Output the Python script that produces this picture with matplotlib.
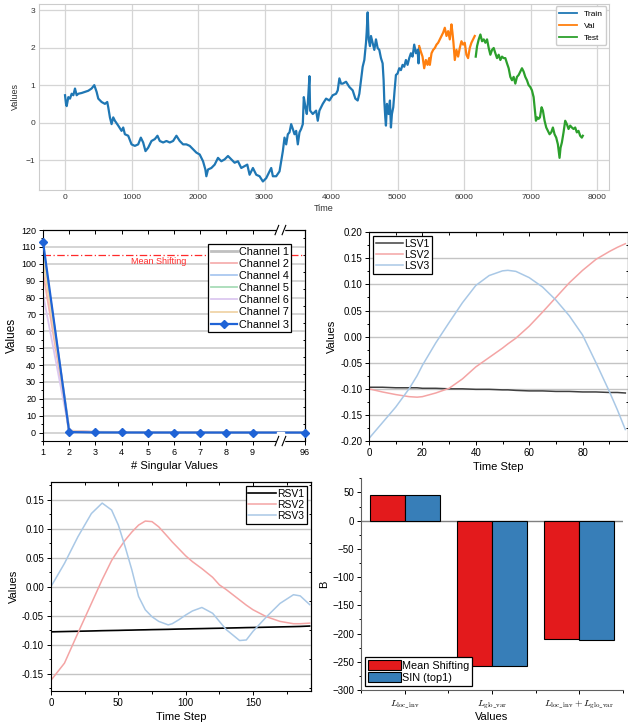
import matplotlib
matplotlib.use('Agg')
import matplotlib.pyplot as plt
from matplotlib.patches import Rectangle
from matplotlib.ticker import MultipleLocator, FormatStrFormatter

plt.rcParams['font.family'] = ['Liberation Sans', 'DejaVu Sans']
plt.rcParams['mathtext.fontset'] = 'cm'

# ---- top panel: series split into train / val / test
train_t = [0, 15, 25, 50, 75, 100, 125, 150, 175, 200, 250, 300, 350, 400, 440, 475, 500, 550, 600, 635,
           650, 675, 700, 725, 750, 800, 850, 875, 900, 950, 1000, 1050, 1100, 1140, 1175, 1210, 1250, 1300,
           1350, 1390, 1425, 1475, 1525, 1575, 1625, 1675, 1725, 1775, 1825, 1875, 1925, 1975, 2025, 2075,
           2110, 2125, 2150, 2200, 2250, 2300, 2350, 2400, 2450, 2500, 2550, 2600, 2650, 2700, 2740, 2775,
           2825, 2875, 2925, 2975, 3025, 3075, 3100, 3125, 3175, 3225, 3250, 3275, 3300, 3325, 3350, 3375,
           3400, 3425, 3450, 3475, 3500, 3525, 3550, 3575, 3590, 3615, 3635, 3650, 3675, 3685, 3725, 3775,
           3800, 3825, 3875, 3925, 3975, 4025, 4075, 4100, 4125, 4150, 4175, 4225, 4275, 4325, 4365, 4400,
           4425, 4450, 4475, 4500, 4525, 4535, 4550, 4565, 4585, 4600, 4625, 4650, 4675, 4700, 4725, 4750,
           4775, 4790, 4800, 4815, 4825, 4840, 4865, 4885, 4900, 4915, 4935, 4955, 4975, 5000, 5025, 5050,
           5075, 5100, 5125, 5150, 5175, 5200, 5225, 5250, 5275, 5300, 5315, 5325]
train_v = [0.74, 0.51, 0.45, 0.69, 0.65, 0.78, 0.74, 0.92, 0.74, 0.78, 0.80, 0.83, 0.86, 0.92, 1.01, 0.83, 0.65,
           0.56, 0.51, 0.56, 0.42, 0.15, -0.03, 0.15, 0.06, -0.07, -0.21, -0.12, -0.30, -0.34, -0.57, -0.61,
           -0.57, -0.39, -0.52, -0.75, -0.66, -0.48, -0.43, -0.34, -0.48, -0.52, -0.48, -0.52, -0.48, -0.34,
           -0.48, -0.57, -0.57, -0.61, -0.70, -0.79, -0.84, -1.02, -1.24, -1.42, -1.24, -1.20, -1.11, -0.93,
           -1.02, -0.97, -0.88, -0.97, -1.06, -1.02, -1.20, -1.15, -1.11, -1.38, -1.20, -1.38, -1.42, -1.56,
           -1.47, -1.29, -1.20, -1.42, -1.42, -1.29, -1.02, -0.75, -0.39, -0.57, -0.30, -0.25, -0.03, -0.16,
           -0.30, -0.21, -0.57, -0.25, -0.16, -0.03, 0.69, 0.42, 0.24, 0.51, 1.25, 0.33, 0.24, 0.33, 0.06,
           0.33, 0.51, 0.65, 0.60, 0.74, 0.78, 0.87, 1.19, 1.05, 1.05, 1.10, 0.96, 0.87, 0.65, 0.60, 0.78,
           1.14, 1.50, 1.68, 2.14, 2.41, 2.95, 2.23, 2.05, 2.32, 2.14, 1.95, 2.23, 2.00, 1.95, 1.73, 1.59,
           1.14, 0.60, 0.15, -0.07, 0.51, 0.24, 0.60, -0.12, 0.24, 0.42, 0.87, 1.28, 1.32, 1.46, 1.41, 1.55,
           1.50, 1.68, 1.55, 1.73, 1.86, 1.77, 2.09, 1.86, 1.95, 1.59, 2.00]
val_t = [5325, 5350, 5375, 5400, 5425, 5450, 5475, 5485, 5510, 5535, 5560, 5585, 5610, 5635, 5660, 5685,
         5710, 5735, 5760, 5785, 5810, 5825, 5840, 5860, 5885, 5910, 5935, 5960, 5985, 6010, 6035, 6060,
         6085, 6110, 6135, 6160]
val_v = [2.05, 1.90, 1.77, 1.46, 1.68, 1.55, 1.73, 1.55, 1.86, 1.95, 2.00, 2.09, 2.14, 2.23, 2.32, 2.41,
         2.54, 2.32, 2.45, 2.23, 2.63, 2.41, 2.14, 1.68, 1.95, 1.77, 2.00, 2.18, 2.09, 2.14, 1.82, 1.73,
         2.00, 2.14, 2.23, 2.32]
test_t = [6175, 6195, 6220, 6245, 6270, 6295, 6320, 6345, 6370, 6395, 6420, 6445, 6470, 6495, 6520, 6545,
          6570, 6595, 6620, 6645, 6670, 6695, 6720, 6745, 6770, 6795, 6820, 6845, 6870, 6895, 6920, 6945,
          6970, 6995, 7020, 7045, 7060, 7080, 7100, 7120, 7140, 7165, 7185, 7210, 7235, 7260, 7285, 7310,
          7335, 7360, 7385, 7410, 7435, 7450, 7470, 7495, 7520, 7545, 7570, 7595, 7620, 7645, 7670, 7695,
          7720, 7745, 7770, 7785]
test_v = [1.77, 2.05, 2.23, 2.36, 2.18, 2.23, 2.14, 2.23, 2.00, 1.82, 1.95, 2.00, 1.86, 1.73, 1.82, 1.68,
          1.77, 1.73, 1.73, 1.59, 1.46, 1.23, 1.14, 1.23, 1.05, 1.23, 1.28, 1.37, 1.46, 1.37, 1.23, 1.14,
          1.01, 0.96, 0.87, 0.69, 0.42, 0.06, 0.15, 0.11, 0.15, 0.42, 0.33, 0.06, -0.12, -0.21, -0.30, -0.25,
          -0.12, -0.30, -0.39, -0.57, -0.93, -0.66, -0.52, -0.25, 0.06, -0.03, -0.16, -0.07, -0.12, -0.16,
          -0.12, -0.25, -0.21, -0.34, -0.39, -0.34]

# ---- singular values per channel (index 1..9 and 96)
sv_index = [1, 2, 3, 4, 5, 6, 7, 8, 9, 96]
sv_ticks = ['1', '2', '3', '4', '5', '6', '7', '8', '9', '96']
ch1 = [108, 0.8, 0.2, 0.1, 0.05, 0.05, 0.03, 0.02, 0.02, 0]
ch2 = [95, 1.2, 0.3, 0.1, 0.05, 0.04, 0.03, 0.02, 0.02, 0]
ch4 = [110, 0.6, 0.2, 0.1, 0.05, 0.04, 0.03, 0.02, 0.02, 0]
ch5 = [106, 0.7, 0.2, 0.1, 0.05, 0.04, 0.03, 0.02, 0.02, 0]
ch6 = [82, 1.0, 0.3, 0.1, 0.05, 0.04, 0.03, 0.02, 0.02, 0]
ch7 = [103, 0.9, 0.2, 0.1, 0.05, 0.04, 0.03, 0.02, 0.02, 0]
ch3 = [113, 0.3, 0.1, 0.05, 0.03, 0.02, 0.02, 0.01, 0.01, 0]
mean_shift = 105.5

# ---- left singular vectors
lsv_t = [0, 5, 10, 15, 18, 20, 25, 30, 35, 40, 45, 50, 52, 55, 60, 65, 70, 75, 80, 85, 90, 93, 96]
lsv1 = [-0.097, -0.097, -0.098, -0.098, -0.098, -0.099, -0.099, -0.100, -0.100, -0.101, -0.101, -0.102,
        -0.102, -0.103, -0.104, -0.104, -0.105, -0.105, -0.106, -0.106, -0.107, -0.107, -0.108]
lsv2 = [-0.100, -0.106, -0.111, -0.115, -0.116, -0.115, -0.108, -0.099, -0.081, -0.058, -0.040, -0.022,
        -0.014, -0.003, 0.020, 0.047, 0.075, 0.103, 0.127, 0.148, 0.163, 0.171, 0.178]
lsv3 = [-0.195, -0.165, -0.135, -0.100, -0.075, -0.055, -0.012, 0.027, 0.065, 0.098, 0.117, 0.126,
        0.127, 0.125, 0.113, 0.095, 0.070, 0.040, 0.003, -0.050, -0.105, -0.140, -0.178]

# ---- right singular vectors
rsv_t = [0, 10, 20, 30, 38, 45, 50, 55, 60, 65, 70, 75, 80, 87, 90, 95, 100, 105, 112, 120, 125, 130,
         140, 145, 150, 160, 170, 180, 185, 192]
rsv1 = [-0.078, -0.0775, -0.077, -0.0765, -0.076, -0.0757, -0.0755, -0.0752, -0.075, -0.0747, -0.0745,
        -0.0742, -0.074, -0.0737, -0.0735, -0.0732, -0.073, -0.0727, -0.0724, -0.072, -0.0718, -0.0715,
        -0.071, -0.0707, -0.0705, -0.070, -0.0695, -0.069, -0.0687, -0.068]
rsv2 = [-0.1615, -0.132, -0.080, -0.029, 0.012, 0.045, 0.063, 0.080, 0.094, 0.106, 0.113, 0.112, 0.103,
        0.085, 0.077, 0.065, 0.053, 0.043, 0.031, 0.016, 0.003, -0.005, -0.023, -0.032, -0.040, -0.052,
        -0.060, -0.064, -0.064, -0.063]
rsv3 = [0.000, 0.040, 0.086, 0.126, 0.144, 0.132, 0.106, 0.069, 0.029, -0.017, -0.040, -0.052, -0.060,
        -0.066, -0.064, -0.057, -0.049, -0.042, -0.036, -0.046, -0.060, -0.074, -0.093, -0.092, -0.077,
        -0.052, -0.029, -0.014, -0.016, -0.031]

# ---- bar panel
bar_labels = [r'$L_{\mathrm{loc\_inv}}$', r'$L_{\mathrm{glo\_var}}$',
              r'$L_{\mathrm{loc\_inv}}+L_{\mathrm{glo\_var}}$']
mean_shifting = [46, -257, -210]
sin_top1 = [45, -257, -211]

fig = plt.figure(figsize=(6.28, 7.25), dpi=100)


def inner_ticks(ax, xloc, xminor, yloc, yminor):
    # inward ticks on the top and right edges
    top = ax.secondary_xaxis('top')
    top.xaxis.set_major_locator(xloc)
    if xminor:
        top.xaxis.set_minor_locator(xminor)
    top.tick_params(which='both', direction='in', labeltop=False, width=0.7)
    top.tick_params(which='major', length=3)
    top.tick_params(which='minor', length=1.8)
    right = ax.secondary_yaxis('right')
    right.yaxis.set_major_locator(yloc)
    if yminor:
        right.yaxis.set_minor_locator(yminor)
    right.tick_params(which='both', direction='in', labelright=False, width=0.7)
    right.tick_params(which='major', length=3)
    right.tick_params(which='minor', length=1.8)
    for a in (top, right):
        for s in a.spines.values():
            s.set_linewidth(0.8)


def origin_axes(ax, xloc, xminor, yloc, yminor, fs=7):
    ax.yaxis.grid(True, color='#c4c4c4', lw=1.0)
    ax.set_axisbelow(True)
    for s in ax.spines.values():
        s.set_color('black')
        s.set_linewidth(0.8)
    ax.xaxis.set_major_locator(MultipleLocator(xloc))
    ax.yaxis.set_major_locator(MultipleLocator(yloc))
    ax.xaxis.set_minor_locator(MultipleLocator(xminor))
    ax.yaxis.set_minor_locator(MultipleLocator(yminor))
    ax.tick_params(which='both', direction='out', labelsize=fs, width=0.7, pad=2)
    ax.tick_params(which='major', length=3)
    ax.tick_params(which='minor', length=1.8)
    inner_ticks(ax, MultipleLocator(xloc), MultipleLocator(xminor), MultipleLocator(yloc),
                MultipleLocator(yminor))


def box_legend(ax, **kw):
    leg = ax.legend(fancybox=False, edgecolor='black', framealpha=1, borderpad=0.25,
                    handletextpad=0.15, borderaxespad=0.4, **kw)
    leg.get_frame().set_linewidth(0.9)
    return leg


# ================= top panel
ax0 = fig.add_axes([0.0623, 0.738, 0.907, 0.2566])
ax0.plot(train_t, train_v, color='#1f77b4', lw=1.6, label='Train')
ax0.plot(val_t, val_v, color='#ff7f0e', lw=1.6, label='Val')
ax0.plot(test_t, test_v, color='#2ca02c', lw=1.6, label='Test')
ax0.set_xticks(range(0, 8001, 1000))
ax0.set_yticks([-1, 0, 1, 2, 3])
ax0.grid(True, color='#d5d5d5', lw=0.9)
ax0.set_axisbelow(True)
for s in ax0.spines.values():
    s.set_color('#cccccc')
ax0.tick_params(length=0, labelsize=6, colors='#333333', pad=3)
ax0.set_xlabel('Time', fontsize=6.5, color='#333333', labelpad=2)
ax0.set_ylabel('Values', fontsize=6.5, color='#333333', labelpad=4)
leg0 = ax0.legend(loc='upper right', fontsize=6, edgecolor='#cccccc', framealpha=1,
                  handlelength=2.2, borderaxespad=0.3)
for h in leg0.get_lines():
    h.set_linewidth(1.3)

# ================= singular values (broken axis: 96 drawn at position 11)
pos = [i if i < 10 else 11 for i in sv_index]
ax1 = fig.add_axes([0.0685, 0.3917, 0.417, 0.291])
ax1.plot(pos, ch1, color='#c0c0c0', lw=2.0, label='Channel 1')
ax1.plot(pos, ch2, color='#f6b0b0', lw=1.3, label='Channel 2')
ax1.plot(pos, ch4, color='#aac8f0', lw=1.3, label='Channel 4')
ax1.plot(pos, ch5, color='#a8dcb8', lw=1.3, label='Channel 5')
ax1.plot(pos, ch6, color='#dcc8f0', lw=1.3, label='Channel 6')
ax1.plot(pos, ch7, color='#f0d4a8', lw=1.3, label='Channel 7')
ax1.plot(pos, ch3, color='#1f63d6', lw=1.6, marker='D', ms=4.2, label='Channel 3', clip_on=False, zorder=4)
ax1.axhline(mean_shift, color='#ff2a2a', lw=0.9, ls=(0, (6, 2, 1, 2)))
ax1.text(5.4, mean_shift - 1.5, 'Mean Shifting', color='#ff2a2a', fontsize=6.5, ha='center', va='top')
ax1.set_xlim(1, 11)
ax1.set_ylim(-5, 120)
ax1.yaxis.grid(True, color='#d4d4d4', lw=1.4)
ax1.set_axisbelow(True)
for s in ax1.spines.values():
    s.set_linewidth(0.8)
ax1.set_xticks(pos)
ax1.set_xticklabels(sv_ticks)
ax1.yaxis.set_major_locator(MultipleLocator(10))
ax1.yaxis.set_minor_locator(MultipleLocator(5))
ax1.tick_params(which='both', direction='out', labelsize=6.5, width=0.7, pad=2)
ax1.tick_params(which='major', length=3)
ax1.tick_params(which='minor', length=1.8)
inner_ticks(ax1, matplotlib.ticker.FixedLocator(pos), None, MultipleLocator(10), MultipleLocator(5))
brk = (9.93, 10.2)
xt = ax1.get_xaxis_transform()
for yb in (-0.03, 0.97):
    ax1.add_patch(Rectangle((brk[0], yb), brk[1] - brk[0], 0.075, transform=xt, color='white',
                            clip_on=False, zorder=5))
for yc in (0.0, 1.0):
    for xb in brk:
        ax1.plot([xb - 0.07, xb + 0.07], [yc - 0.022, yc + 0.022], transform=xt, color='black',
                 lw=0.8, clip_on=False, zorder=6)
ax1.set_xlabel('# Singular Values', fontsize=8, labelpad=3)
ax1.set_ylabel('Values', fontsize=8.5, labelpad=2)
box_legend(ax1, loc='upper right', fontsize=7.8, handlelength=2.4, labelspacing=0.2,
           bbox_to_anchor=(0.965, 0.955))

# ================= LSV
ax2 = fig.add_axes([0.5876, 0.3917, 0.4124, 0.288])
ax2.plot(lsv_t, lsv1, color='#404040', lw=1.1, label='LSV1')
ax2.plot(lsv_t, lsv2, color='#f4a4a4', lw=1.1, label='LSV2')
ax2.plot(lsv_t, lsv3, color='#a9c8e6', lw=1.1, label='LSV3')
origin_axes(ax2, 20, 10, 0.05, 0.025)
ax2.set_xlim(0, 97)
ax2.set_ylim(-0.2, 0.2)
ax2.yaxis.set_major_formatter(FormatStrFormatter('%.2f'))
ax2.set_xlabel('Time Step', fontsize=8, labelpad=3)
ax2.set_ylabel('Values', fontsize=8, labelpad=2)
box_legend(ax2, loc='upper left', fontsize=7.5, handlelength=2.6, labelspacing=0.1)

# ================= RSV
ax3 = fig.add_axes([0.0812, 0.0469, 0.414, 0.288])
ax3.plot(rsv_t, rsv1, color='black', lw=1.2, label='RSV1')
ax3.plot(rsv_t, rsv2, color='#f4a4a4', lw=1.1, label='RSV2')
ax3.plot(rsv_t, rsv3, color='#a9c8e6', lw=1.1, label='RSV3')
origin_axes(ax3, 50, 25, 0.05, 0.025)
ax3.set_xlim(0, 193)
ax3.set_ylim(-0.18, 0.18)
ax3.yaxis.set_major_formatter(FormatStrFormatter('%.2f'))
ax3.set_xlabel('Time Step', fontsize=8, labelpad=3)
ax3.set_ylabel('Values', fontsize=8, labelpad=2)
box_legend(ax3, loc='upper right', fontsize=7.5, handlelength=2.6, labelspacing=0.1)

# ================= bars
ax4 = fig.add_axes([0.5748, 0.0483, 0.417, 0.292])
xs = [1, 2, 3]
w = 0.4
ax4.bar([x - w / 2 for x in xs], mean_shifting, w, color='#e31a1c', edgecolor='black', lw=0.8,
        label='Mean Shifting')
ax4.bar([x + w / 2 for x in xs], sin_top1, w, color='#377eb8', edgecolor='black', lw=0.8,
        label='SIN (top1)')
ax4.axhline(0, color='#808080', lw=1.0, zorder=0)
for s in ax4.spines.values():
    s.set_color('#606060')
    s.set_linewidth(0.8)
ax4.spines['top'].set_visible(False)
ax4.spines['right'].set_visible(False)
ax4.set_xlim(0.5, 3.5)
ax4.set_ylim(-300, 75)
ax4.set_xticks(xs)
ax4.set_xticklabels(bar_labels, fontsize=9.5)
ax4.xaxis.set_minor_locator(MultipleLocator(0.5))
ax4.yaxis.set_major_locator(MultipleLocator(50))
ax4.yaxis.set_minor_locator(MultipleLocator(25))
ax4.tick_params(which='both', direction='out', labelsize=7, width=0.7, pad=2)
ax4.tick_params(axis='x', pad=3)
ax4.tick_params(which='major', length=3)
ax4.tick_params(which='minor', length=1.8)
ax4.set_xlabel('Values', fontsize=8, labelpad=1)
ax4.set_ylabel('B', fontsize=8, labelpad=2)
box_legend(ax4, loc='lower left', fontsize=7.8, handlelength=3.0, handleheight=1.1, labelspacing=0.1,
           bbox_to_anchor=(0.0, 0.0))

fig.savefig('out.png', dpi=100)
